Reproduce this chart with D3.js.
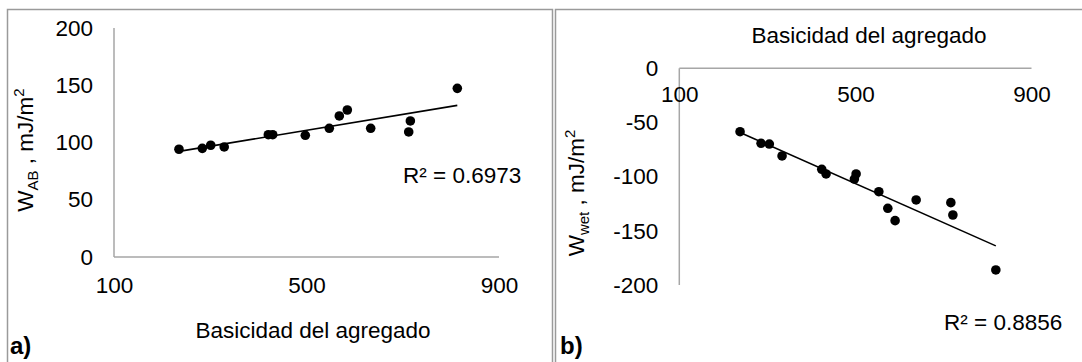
<!DOCTYPE html>
<html>
<head>
<meta charset="utf-8">
<script src="https://cdn.jsdelivr.net/npm/d3@7"></script>
<style>
  html, body { margin: 0; padding: 0; background: #fff; }
  svg { display: block; font-family: "Liberation Sans", Arial, sans-serif; }
</style>
</head>
<body>
<svg id="chart" width="1082" height="362"></svg>
<script>
// ---- Data ----
const xTicks = [100, 500, 900];
const yTicksA = [0, 50, 100, 150, 200];
const yTicksB = [0, -50, -100, -150, -200];

// Panel a) : basicity vs W_AB
const basicityA = [235, 283.5, 301, 329, 420.7, 429.8, 497.5, 547.4, 568.2, 584.8, 633.4, 712.4, 715.8, 813.4];
const wAB       = [94.1, 94.9, 97.6, 96.1, 106.8, 106.8, 106.3, 112.4, 123.2, 128.4, 112.4, 109.2, 118.8, 147.3];
const r2A = "R² = 0.6973";

// Panel b) : basicity vs W_wet
const basicityB = [238, 285.7, 304.5, 333.4, 423.6, 433.4, 501.6, 497.7, 553.2, 573.6, 590.2, 638, 716.8, 721.4, 819];
const wWet      = [-58.5, -69.2, -69.9, -80.9, -93.2, -97.5, -97.5, -102.2, -113.9, -129.2, -140.6, -121.5, -124, -135.4, -186.1];
const r2B = "R² = 0.8856";

const xTitle = "Basicidad del agregado";

// ---- Helpers ----
const svg = d3.select("#chart");
const FS = 22.5;
const axisColor = "#a6a6a6";
const fmt = d => String(d); // keeps ASCII hyphen-minus like the original

function linReg(xs, ys) {
  const n = xs.length;
  const mx = d3.mean(xs), my = d3.mean(ys);
  let sxy = 0, sxx = 0;
  for (let i = 0; i < n; i++) { sxy += (xs[i]-mx)*(ys[i]-my); sxx += (xs[i]-mx)**2; }
  const b = sxy / sxx, a = my - b * mx;
  return x => a + b * x;
}

// Panel frames
svg.append("rect").attr("x", 7.5).attr("y", 9.5).attr("width", 545).attr("height", 370)
  .attr("fill", "none").attr("stroke", "#9a9a9a").attr("stroke-width", 1.5);
svg.append("rect").attr("x", 555.5).attr("y", 9.5).attr("width", 560).attr("height", 370)
  .attr("fill", "none").attr("stroke", "#9a9a9a").attr("stroke-width", 1.5);

function styleAxis(g) {
  g.select(".domain").attr("stroke", axisColor).attr("stroke-width", 1.5);
  g.selectAll(".tick line").remove();
  g.selectAll(".tick text").attr("font-size", FS).attr("fill", "#000")
    .attr("font-family", "'Liberation Sans', Arial, sans-serif");
}

function drawScatter(g, xs, ys, x, y) {
  const f = linReg(xs, ys);
  const x0 = d3.min(xs), x1 = d3.max(xs);
  g.append("line")
    .attr("x1", x(x0)).attr("y1", y(f(x0)))
    .attr("x2", x(x1)).attr("y2", y(f(x1)))
    .attr("stroke", "#000").attr("stroke-width", 1.6);
  g.selectAll("circle.pt").data(xs.map((v, i) => [v, ys[i]])).enter()
    .append("circle").attr("class", "pt")
    .attr("cx", d => x(d[0])).attr("cy", d => y(d[1]))
    .attr("r", 4.8).attr("fill", "#000");
}

// ---- Panel a ----
{
  const x = d3.scaleLinear().domain([100, 900]).range([114, 499]);
  const y = d3.scaleLinear().domain([0, 200]).range([257, 28]);
  const gA = svg.append("g");

  const ya = gA.append("g").attr("transform", `translate(${x(100)},0)`)
    .call(d3.axisLeft(y).tickValues(yTicksA).tickSize(0).tickPadding(21).tickFormat(fmt));
  styleAxis(ya);
  ya.select(".domain").attr("d", `M0,${y(200)}V${y(0)}`);

  const xa = gA.append("g").attr("transform", `translate(0,${y(0)})`)
    .call(d3.axisBottom(x).tickValues(xTicks).tickSize(0).tickPadding(20).tickFormat(fmt));
  styleAxis(xa);
  xa.select(".domain").attr("d", `M${x(100)},0H${x(900)}`);

  drawScatter(gA, basicityA, wAB, x, y);

  gA.append("text").attr("x", 313).attr("y", 338).attr("text-anchor", "middle")
    .attr("font-size", FS).text(xTitle);

  const yt = gA.append("text").attr("transform", "translate(33,150) rotate(-90)")
    .attr("text-anchor", "middle").attr("font-size", FS);
  yt.append("tspan").text("W");
  yt.append("tspan").attr("font-size", 15).attr("dy", 5).text("AB");
  yt.append("tspan").attr("dy", -5).text(" , mJ/m");
  yt.append("tspan").attr("font-size", 15).attr("dy", -9).text("2");

  gA.append("text").attr("x", 403).attr("y", 183).attr("font-size", FS).text(r2A);

  gA.append("text").attr("x", 10).attr("y", 354).attr("font-size", 24)
    .attr("font-weight", "bold").text("a)");
}

// ---- Panel b ----
{
  const x = d3.scaleLinear().domain([100, 900]).range([679.3, 1031.5]);
  const y = d3.scaleLinear().domain([-200, 0]).range([285, 68.3]);
  const gB = svg.append("g");

  const ya = gB.append("g").attr("transform", `translate(${x(100)},0)`)
    .call(d3.axisLeft(y).tickValues(yTicksB).tickSize(0).tickPadding(21).tickFormat(fmt));
  styleAxis(ya);
  ya.select(".domain").attr("d", `M0,${y(0)}V${y(-200)}`);

  const xa = gB.append("g").attr("transform", `translate(0,${y(0)})`)
    .call(d3.axisBottom(x).tickValues(xTicks).tickSize(0).tickPadding(18).tickFormat(fmt));
  styleAxis(xa);
  xa.select(".domain").attr("d", `M${x(100)},0H${x(900)}`);

  drawScatter(gB, basicityB, wWet, x, y);

  gB.append("text").attr("x", 869).attr("y", 43).attr("text-anchor", "middle")
    .attr("font-size", FS).text(xTitle);

  const yt = gB.append("text").attr("transform", "translate(584,193) rotate(-90)")
    .attr("text-anchor", "middle").attr("font-size", FS);
  yt.append("tspan").text("W");
  yt.append("tspan").attr("font-size", 15).attr("dy", 5).text("wet");
  yt.append("tspan").attr("dy", -5).text(" , mJ/m");
  yt.append("tspan").attr("font-size", 15).attr("dy", -9).text("2");

  gB.append("text").attr("x", 944).attr("y", 330).attr("font-size", FS).text(r2B);

  gB.append("text").attr("x", 560).attr("y", 354).attr("font-size", 24)
    .attr("font-weight", "bold").text("b)");
}
</script>
</body>
</html>
